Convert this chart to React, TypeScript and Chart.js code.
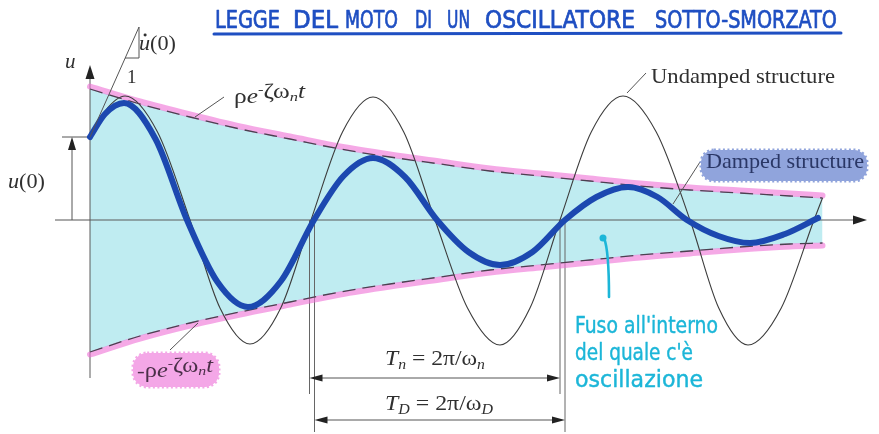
import React, { useEffect, useRef } from "react";
import { Chart, registerables } from "chart.js";

Chart.register(...registerables);

// Damped response u(t) (thick curve)
const dampedT = [0, 0.6, 1.36, 2.62, 3.88, 5.1, 6.32, 7.64, 8.96, 10.14, 11.32, 12.6, 13.88, 15.14, 16.4, 17.7, 19.0, 20.26, 21.52, 22.7, 23.88, 25.14, 26.4, 27.8, 29.12];
const dampedU = [8.3, 10.6, 11.7, 8.1, 0, -6.2, -8.7, -6.1, 0, 4.4, 6.2, 4.3, 0, -3.2, -4.5, -3.2, 0, 2.3, 3.3, 2.3, 0, -1.6, -2.3, -1.4, 0.2];

// Undamped response (thin curve)
const undampedT = [0, 0.6, 1.4, 2.7, 4.0, 5.2, 6.4, 7.63, 8.84, 10.1, 11.32, 12.55, 13.8, 15.1, 16.4, 17.6, 18.8, 20.05, 21.32, 22.65, 24.0, 25.15, 26.32, 27.65, 28.96, 29.3];
const undampedU = [8.3, 10.9, 12.4, 8.8, 0, -8.8, -12.4, -8.8, 0, 8.8, 12.3, 8.8, 0, -8.8, -12.5, -8.8, 0, 8.8, 12.4, 8.8, 0, -8.8, -12.5, -8.8, 0, 2.2];

// Exponential envelope ±ρe^(-ζωn t)
const envelopeT = [0, 2, 4, 6, 8, 10, 12, 14, 16, 18, 20, 22, 24, 26, 28, 29.3];
const envelopeUpper = [13.1, 11.6, 10.3, 9.1, 8.1, 7.1, 6.3, 5.6, 4.9, 4.4, 3.9, 3.4, 3.0, 2.7, 2.4, 2.2];
const envelopeLower = [-13.2, -11.6, -10.3, -9.2, -8.2, -7.2, -6.4, -5.7, -5.0, -4.5, -4.0, -3.5, -3.1, -2.7, -2.4, -2.3];

const titleWords = ["LEGGE", "DEL", "MOTO", "DI", "UN", "OSCILLATORE", "SOTTO-SMORZATO"];
const noteLines = ["Fuso all'interno", "del quale c'è", "oscillazione"];
const undampedLabel = "Undamped structure";
const dampedLabel = "Damped structure";

const pts = (ts: number[], us: number[]) => ts.map((t, i) => ({ x: t, y: us[i] }));

const SERIF = '"Liberation Serif", "DejaVu Serif", serif';
const HAND = '"DejaVu Sans Condensed", "DejaVu Sans", sans-serif';
const sf = (size: number, italic = false) => `${italic ? "italic " : ""}${size}px ${SERIF}`;

type Run = { text: string; font: string; dy?: number; dot?: boolean };

function drawRich(ctx: CanvasRenderingContext2D, runs: Run[], x: number, y: number, color: string, targetWidth?: number, thicken = 0) {
  let w = 0;
  for (const r of runs) {
    ctx.font = r.font;
    w += ctx.measureText(r.text).width;
  }
  const s = targetWidth ? targetWidth / w : 1;
  ctx.save();
  ctx.translate(x, y);
  ctx.scale(s, 1);
  ctx.fillStyle = color;
  ctx.strokeStyle = color;
  ctx.lineWidth = thicken;
  ctx.lineJoin = "round";
  ctx.textBaseline = "alphabetic";
  ctx.textAlign = "left";
  let cx = 0;
  for (const r of runs) {
    ctx.font = r.font;
    const mw = ctx.measureText(r.text).width;
    ctx.fillText(r.text, cx, r.dy || 0);
    if (thicken > 0) ctx.strokeText(r.text, cx, r.dy || 0);
    if (r.dot) {
      ctx.beginPath();
      ctx.arc(cx + mw * 0.55, (r.dy || 0) - 15, 1.4, 0, Math.PI * 2);
      ctx.fill();
    }
    cx += mw;
  }
  ctx.restore();
}

function fitText(ctx: CanvasRenderingContext2D, text: string, x: number, y: number, width: number, font: string, color: string, thicken = 0) {
  drawRich(ctx, [{ text, font }], x, y, color, width, thicken);
}

function arrowHead(ctx: CanvasRenderingContext2D, tx: number, ty: number, dx: number, dy: number, len: number, half: number) {
  const px = -dy, py = dx;
  ctx.beginPath();
  ctx.moveTo(tx, ty);
  ctx.lineTo(tx - dx * len + px * half, ty - dy * len + py * half);
  ctx.lineTo(tx - dx * len - px * half, ty - dy * len - py * half);
  ctx.closePath();
  ctx.fill();
}

function line(ctx: CanvasRenderingContext2D, x1: number, y1: number, x2: number, y2: number) {
  ctx.beginPath();
  ctx.moveTo(x1, y1);
  ctx.lineTo(x2, y2);
  ctx.stroke();
}

function blob(ctx: CanvasRenderingContext2D, x: number, y: number, w: number, h: number, color: string) {
  ctx.save();
  ctx.fillStyle = color;
  ctx.strokeStyle = color;
  ctx.beginPath();
  ctx.roundRect(x, y, w, h, h / 2.4);
  ctx.fill();
  ctx.lineWidth = 3;
  ctx.setLineDash([2, 2.5]);
  ctx.stroke();
  ctx.restore();
}

const overlay = {
  id: "overlay",
  beforeDatasetsDraw(chart: any) {
    const ctx: CanvasRenderingContext2D = chart.ctx;
    const X = (v: number) => chart.scales.x.getPixelForValue(v);
    const Y = (v: number) => chart.scales.y.getPixelForValue(v);
    const x0 = X(0), y0 = Y(0), yU0 = Y(dampedU[0]);
    ctx.save();
    ctx.strokeStyle = "#5a5a5a";
    ctx.fillStyle = "#222";
    ctx.lineWidth = 1;
    // axes
    line(ctx, x0, y0, 856, y0);
    arrowHead(ctx, 867, y0, 1, 0, 14, 4.5);
    line(ctx, x0, 378, x0, 76);
    arrowHead(ctx, x0, 65, 0, -1, 14, 4.5);
    // period extension lines
    ctx.strokeStyle = "#666";
    line(ctx, X(undampedT[8]) - 1.5, y0, X(undampedT[8]) - 1.5, 394);
    line(ctx, X(undampedT[16]), y0, X(undampedT[16]), 394);
    line(ctx, X(dampedT[8]) + 0.5, y0, X(dampedT[8]) + 0.5, 432);
    line(ctx, X(dampedT[16]), y0, X(dampedT[16]), 432);
    // u(0) dimension
    ctx.strokeStyle = "#555";
    line(ctx, 62, yU0, x0, yU0);
    line(ctx, 55, y0, x0, y0);
    line(ctx, 72, y0, 72, yU0 + 12);
    arrowHead(ctx, 72, yU0, 0, -1, 13, 4);
    ctx.restore();
  },
  beforeDatasetDraw(chart: any, args: any) {
    const ds = chart.data.datasets[args.index];
    if (ds.shiftPx) {
      chart.ctx.save();
      chart.ctx.translate(0, ds.shiftPx);
    }
  },
  afterDatasetDraw(chart: any, args: any) {
    const ds = chart.data.datasets[args.index];
    if (ds.shiftPx) chart.ctx.restore();
  },
  afterDatasetsDraw(chart: any) {
    const ctx: CanvasRenderingContext2D = chart.ctx;
    const X = (v: number) => chart.scales.x.getPixelForValue(v);
    const Y = (v: number) => chart.scales.y.getPixelForValue(v);
    const x0 = X(0), yU0 = Y(dampedU[0]);
    const ink = "#303030";
    ctx.save();
    ctx.lineWidth = 1;
    ctx.strokeStyle = "#555";
    ctx.fillStyle = "#222";

    // initial slope triangle
    line(ctx, x0, yU0, 139, 27);
    line(ctx, 125, 58, 139, 58);
    line(ctx, 139, 27, 139, 58);

    // leaders
    line(ctx, 195, 117, 224, 97);
    line(ctx, 627, 93, 646, 73);
    line(ctx, 673, 204, 700, 162);
    line(ctx, 170, 350, 198, 323);

    // period arrows
    const a1 = X(undampedT[8]) - 1.5, a2 = X(undampedT[16]);
    line(ctx, a1 + 10, 378, a2 - 10, 378);
    arrowHead(ctx, a1, 378, -1, 0, 13, 3.5);
    arrowHead(ctx, a2, 378, 1, 0, 13, 3.5);
    const b1 = X(dampedT[8]) + 0.5, b2 = X(dampedT[16]);
    line(ctx, b1 + 10, 420, b2 - 10, 420);
    arrowHead(ctx, b1, 420, -1, 0, 13, 3.5);
    arrowHead(ctx, b2, 420, 1, 0, 13, 3.5);

    // text labels
    drawRich(ctx, [{ text: "u", font: sf(21, true) }], 65, 68, ink);
    drawRich(ctx, [{ text: "u", font: sf(20, true), dot: true }, { text: "(0)", font: sf(20) }], 139, 50, ink, 37);
    drawRich(ctx, [{ text: "1", font: sf(19) }], 127, 83, ink);
    drawRich(ctx, [{ text: "u", font: sf(21, true) }, { text: "(0)", font: sf(21) }], 8, 188, ink, 37);

    const expRuns = (sign: boolean): Run[] => [
      ...(sign ? [{ text: "-", font: sf(19) }] : []),
      { text: "ρ", font: sf(20) },
      { text: "e", font: sf(20, true) },
      { text: "-", font: sf(13), dy: -9 },
      { text: "ζω", font: sf(20), dy: -5 },
      { text: "n", font: sf(13, true), dy: -2 },
      { text: "t", font: sf(20, true), dy: -5 },
    ];
    drawRich(ctx, expRuns(false), 234, 103, ink, 71);

    blob(ctx, 133, 353, 86, 34, "#f4a7e7");
    drawRich(ctx, expRuns(true), 137, 377, "#4a2f48", 76);

    fitText(ctx, undampedLabel, 651, 83, 184, sf(22), ink);
    blob(ctx, 701, 150, 166, 31, "#90a4dc");
    fitText(ctx, dampedLabel, 706, 168, 158, sf(22), "#2a3766");

    drawRich(ctx, [
      { text: "T", font: sf(21, true) },
      { text: "n", font: sf(14, true), dy: 4 },
      { text: " = 2π/ω", font: sf(21) },
      { text: "n", font: sf(14, true), dy: 4 },
    ], 385, 365, ink, 100);
    drawRich(ctx, [
      { text: "T", font: sf(21, true) },
      { text: "D", font: sf(14, true), dy: 4 },
      { text: " = 2π/ω", font: sf(21) },
      { text: "D", font: sf(14, true), dy: 4 },
    ], 385, 410, ink, 108);

    // handwritten title
    const titleBoxes = [[215, 280], [293, 338], [345, 398], [415, 432], [447, 470], [485, 635], [655, 837]];
    titleWords.forEach((w, i) => {
      const [l, r] = titleBoxes[i];
      fitText(ctx, w, l, 28, r - l, `24px ${HAND}`, "#1f4fc2", 0.7);
    });
    ctx.strokeStyle = "#1f4fc2";
    ctx.lineWidth = 3;
    ctx.lineCap = "round";
    line(ctx, 214, 34, 841, 33);

    // handwritten note with pointer
    const cyan = "#1cb6d8";
    ctx.strokeStyle = cyan;
    ctx.fillStyle = cyan;
    ctx.lineWidth = 2.6;
    ctx.beginPath();
    ctx.moveTo(604, 238);
    ctx.quadraticCurveTo(609, 250, 609, 297);
    ctx.stroke();
    ctx.beginPath();
    ctx.arc(603, 238, 3.5, 0, Math.PI * 2);
    ctx.fill();
    const noteBoxes = [[575, 143, 333], [575, 118, 360], [575, 128, 387]];
    noteLines.forEach((t, i) => {
      const [l, w, b] = noteBoxes[i];
      fitText(ctx, t, l, b, w, `23px ${HAND}`, cyan, 0.4);
    });
    ctx.restore();
  },
};

export default function App() {
  const ref = useRef<HTMLCanvasElement | null>(null);
  useEffect(() => {
    if (!ref.current) return;
    const common = { pointRadius: 0, cubicInterpolationMode: "monotone", fill: false };
    const chart = new Chart(ref.current, {
      type: "line",
      data: {
        datasets: [
          { ...common, label: "band", data: pts(envelopeT, envelopeUpper), borderColor: "transparent", backgroundColor: "#bfecf1", fill: "+1", order: 6 },
          { ...common, label: "bandLower", data: pts(envelopeT, envelopeLower), borderColor: "transparent", order: 6 },
          { ...common, label: "hlUpper", data: pts(envelopeT, envelopeUpper), borderColor: "rgba(238,112,214,0.6)", borderWidth: 6, borderCapStyle: "round", shiftPx: -2.5, order: 5 },
          { ...common, label: "hlLower", data: pts(envelopeT, envelopeLower), borderColor: "rgba(238,112,214,0.6)", borderWidth: 6, borderCapStyle: "round", shiftPx: 2.5, order: 5 },
          { ...common, label: "undamped", data: pts(undampedT, undampedU), borderColor: "#3c3c3c", borderWidth: 1.1, order: 4 },
          { ...common, label: "envUpper", data: pts(envelopeT, envelopeUpper), borderColor: "#4b4150", borderWidth: 1.3, borderDash: [13, 7], order: 3 },
          { ...common, label: "envLower", data: pts(envelopeT, envelopeLower), borderColor: "#4b4150", borderWidth: 1.3, borderDash: [13, 7], order: 3 },
          { ...common, label: "damped", data: pts(dampedT, dampedU), borderColor: "#1c48b0", borderWidth: 6, borderCapStyle: "round", borderJoinStyle: "round", order: 1 },
        ],
      } as any,
      options: {
        responsive: false,
        animation: false,
        layout: { padding: 0 },
        scales: {
          x: { type: "linear", min: -3.6, max: 31.56, display: false },
          y: { type: "linear", min: -21.4, max: 22.0, display: false },
        },
        plugins: {
          legend: { display: false },
          tooltip: { enabled: false },
          filler: { drawTime: "beforeDatasetsDraw" },
        },
      } as any,
      plugins: [overlay as any],
    });
    return () => chart.destroy();
  }, []);
  return (
    <div style={{ position: "fixed", left: 0, top: 0, width: 879, height: 434, background: "#fff" }}>
      <canvas ref={ref} width={879} height={434} style={{ width: 879, height: 434, display: "block" }} />
    </div>
  );
}
